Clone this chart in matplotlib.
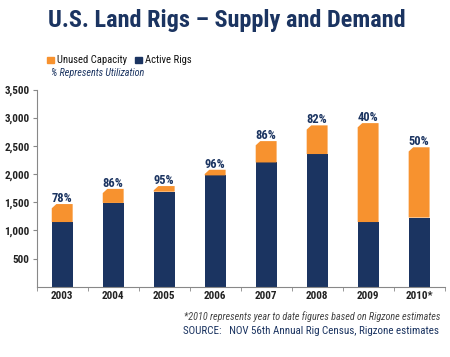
import matplotlib
matplotlib.use("Agg")
import matplotlib.pyplot as plt
from matplotlib.patches import Polygon
import numpy as np

years = ["2003", "2004", "2005", "2006", "2007", "2008", "2009", "2010*"]
active = [1150, 1490, 1690, 1980, 2210, 2360, 1150, 1230]
total = [1470, 1740, 1790, 2080, 2590, 2870, 2910, 2480]
util = ["78%", "86%", "95%", "96%", "86%", "82%", "40%", "50%"]
yticks = [500, 1000, 1500, 2000, 2500, 3000, 3500]

navy = "#1b3461"
orange = "#f7922f"

plt.rcParams['font.family'] = ["Roboto Condensed", "DejaVu Sans"]

fig = plt.figure(figsize=(4.5, 3.57), dpi=100)
ax = fig.add_axes([0.0816, 0.197, 0.9064, 0.551])

x = np.arange(len(years))
unused = [t - a for t, a in zip(total, active)]
ax.bar(x, active, width=0.41, color=navy, zorder=2)
tops = ax.bar(x, unused, bottom=active, width=0.41, color=orange, zorder=2)
# cut the top-left corner of the orange part like the original
cx, cy = 0.09, 75
for r in tops:
    x0, y0, w, h = r.get_x(), r.get_y(), r.get_width(), r.get_height()
    r.set_visible(False)
    c = min(cy, h)
    ax.add_patch(Polygon([(x0, y0), (x0 + w, y0), (x0 + w, y0 + h), (x0 + cx, y0 + h),
                          (x0, y0 + h - c)], closed=True, color=orange, zorder=2, lw=0))
for i in range(len(years)):
    ax.text(x[i], total[i] - 15, util[i], ha="center", va="bottom",
            fontsize=9, fontweight="bold", color=navy)

ax.set_xlim(-0.5, len(years) - 0.5)
ax.set_ylim(0, 3500)
ax.set_yticks(yticks)
ax.set_yticklabels(["{:,}".format(v) for v in yticks], fontsize=8, fontweight="bold", color="#222222")
ax.set_xticks(x)
ax.set_xticklabels(years, fontsize=8, fontweight="bold", color="#222222")
ax.set_xticks(np.arange(-0.5, len(years)), minor=True)
ax.tick_params(axis="x", which="major", length=0, pad=3)
ax.tick_params(axis="x", which="minor", length=3, color="#888888")
ax.tick_params(axis="y", length=3, color="#888888", pad=2)
for s in ["top", "right"]:
    ax.spines[s].set_visible(False)
for s in ["left", "bottom"]:
    ax.spines[s].set_color("#888888")

fig.text(0.503, 1 - 21/357, "U.S. Land Rigs – Supply and Demand", ha="center", va="center",
         fontsize=17.5, fontweight="bold", color=navy)

# legend
fig.patches.append(plt.Rectangle((47/450, 1 - 63/357), 7/450, 6/357, transform=fig.transFigure,
                                 color=orange, figure=fig))
fig.text(57/450, 1 - 60/357, "Unused Capacity", fontsize=7.7, va="center", color="#111111")
fig.patches.append(plt.Rectangle((135/450, 1 - 63/357), 7/450, 6/357, transform=fig.transFigure,
                                 color=navy, figure=fig))
fig.text(145/450, 1 - 60/357, "Active Rigs", fontsize=7.7, va="center", color="#111111")
fig.text(51/450, 1 - 73/357, "% Represents Utilization", fontsize=7.3, style="italic",
         va="center", color=navy)

fig.text(440/450, 1 - 317/357, "*2010 represents year to date figures based on Rigzone estimates",
         fontsize=7.3, style="italic", ha="right", va="center", color="#444444")
fig.text(439/450, 1 - 331/357, "SOURCE:   NOV 56th Annual Rig Census, Rigzone estimates",
         fontsize=7.9, ha="right", va="center", color=navy)

fig.savefig("out.png", dpi=100)
